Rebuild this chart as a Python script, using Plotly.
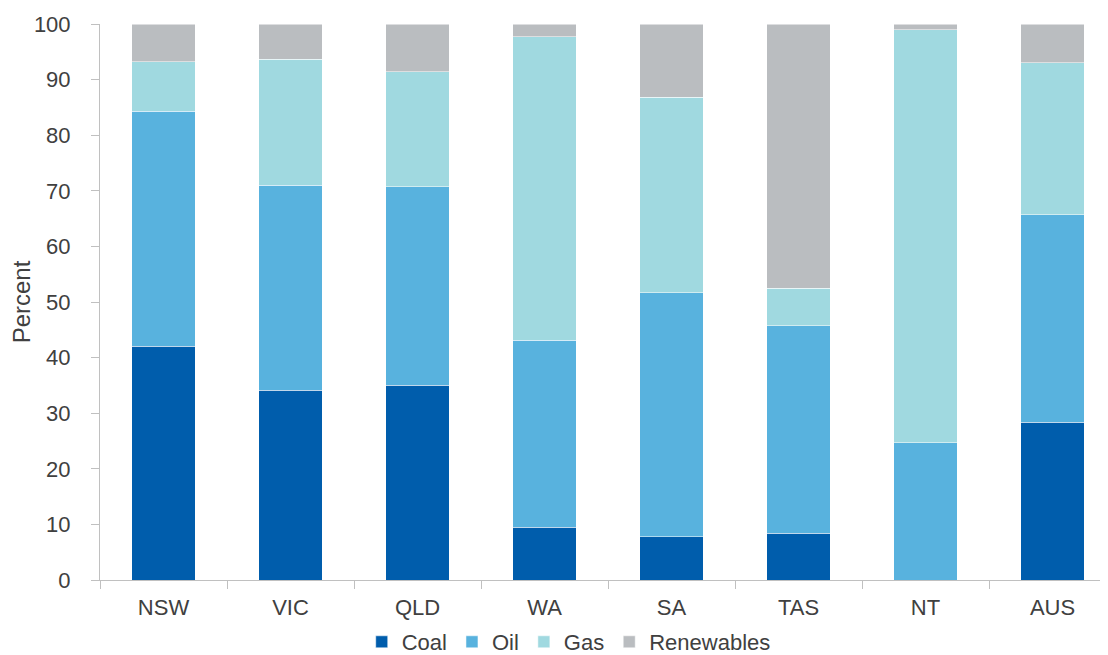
import plotly.graph_objects as go

regions = ["NSW", "VIC", "QLD", "WA", "SA", "TAS", "NT", "AUS"]
coal = [42.0, 34.1, 35.0, 9.5, 7.8, 8.4, 0.0, 28.4]
oil = [42.3, 36.9, 35.7, 33.6, 43.9, 37.3, 24.7, 37.3]
gas = [8.9, 22.7, 20.7, 54.6, 35.1, 6.8, 74.3, 27.3]
renewables = [6.8, 6.3, 8.6, 2.3, 13.2, 47.5, 1.0, 7.0]

series = [
    ("Coal", coal, "#005DAC"),
    ("Oil", oil, "#58B2DE"),
    ("Gas", gas, "#A0D9E0"),
    ("Renewables", renewables, "#BABDC0"),
]

fig = go.Figure()
for name, vals, col in series:
    fig.add_trace(go.Bar(
        x=regions, y=vals, name=name,
        marker=dict(color=col, line=dict(color="rgba(255,255,255,0.5)", width=1)),
        width=0.5,
    ))

font_family = "Liberation Sans, Arial, sans-serif"
text_col = "#404040"
fig.update_layout(
    barmode="stack",
    width=1100, height=655,
    margin=dict(l=92, r=0, t=16, b=82),
    plot_bgcolor="white", paper_bgcolor="white",
    font=dict(family=font_family, size=22, color=text_col),
    showlegend=True,
    legend=dict(
        orientation="h", x=0.465, xanchor="center", y=-0.111, yanchor="middle",
        font=dict(size=22, color=text_col), itemwidth=30, tracegroupgap=0,
        traceorder="normal",
    ),
)
fig.update_xaxes(
    range=[-0.5, 7.437],
    showline=True, linecolor="#C0C0C0", linewidth=1,
    ticks="outside", tickson="boundaries", ticklen=8, tickcolor="#C0C0C0",
    showgrid=False, tickfont=dict(size=22, color=text_col),
    ticklabelstandoff=8,
)
fig.update_yaxes(
    range=[0, 100], dtick=10,
    showline=True, linecolor="#C0C0C0", linewidth=1,
    ticks="outside", ticklen=8, tickcolor="#C0C0C0",
    showgrid=False, zeroline=False,
    tickfont=dict(size=22, color=text_col),
    ticklabelstandoff=16,
    title=dict(text="Percent", font=dict(size=24, color=text_col), standoff=2),
)

fig.write_html("out.html")
